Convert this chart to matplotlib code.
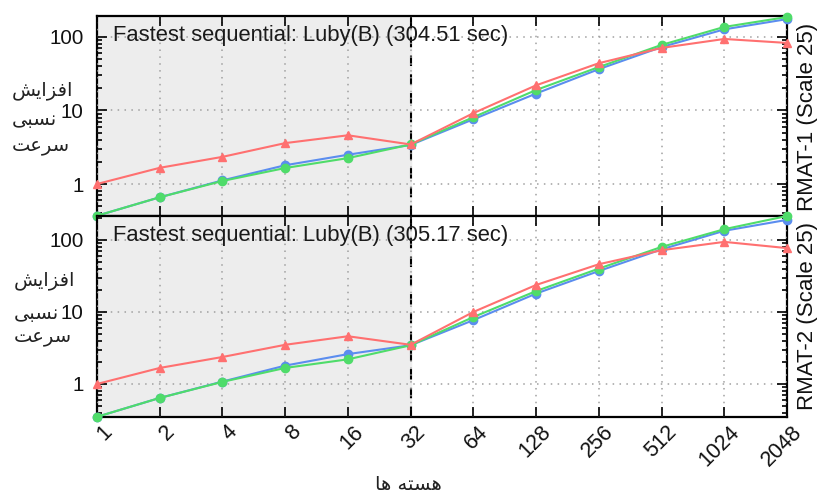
import matplotlib
matplotlib.use("Agg")
import matplotlib.pyplot as plt
import matplotlib.transforms as mtransforms
from matplotlib.ticker import LogLocator, NullFormatter, FixedLocator, FixedFormatter

plt.rcParams['font.family'] = ['Liberation Sans', 'DejaVu Sans']

cores = [1, 2, 4, 8, 16, 32, 64, 128, 256, 512, 1024, 2048]
core_labels = ['1', '2', '4', '8', '16', '32', '64', '128', '256', '512', '1024', '2048']

# RMAT-1
red1 = [1.0, 1.66, 2.34, 3.6, 4.6, 3.45, 9.2, 22, 44, 71, 94, 83]
blue1 = [0.37, 0.66, 1.12, 1.8, 2.5, 3.4, 7.6, 17, 36.5, 73, 127, 175]
green1 = [0.37, 0.66, 1.1, 1.65, 2.25, 3.45, 8.1, 19, 39, 78, 137, 187]
# RMAT-2
red2 = [1.0, 1.67, 2.37, 3.5, 4.6, 3.5, 10, 23.7, 46, 72, 94, 77]
blue2 = [0.35, 0.64, 1.08, 1.8, 2.6, 3.45, 7.7, 18, 37, 74, 134, 190]
green2 = [0.35, 0.64, 1.07, 1.67, 2.2, 3.45, 8.5, 19.5, 40, 80, 141, 215]

titles = ['Fastest sequential: Luby(B) (304.51 sec)',
          'Fastest sequential: Luby(B) (305.17 sec)']
side_labels = ['RMAT-1 (Scale 25)', 'RMAT-2 (Scale 25)']

# Persian labels (presentation forms in visual order)
ylab_lines = ['\uFEB6\uFEF3\uFE8D\uFEB0\uFED3\uFE8D',   # افزایش
              '\uFEF0\uFE92\uFEB4\uFEE7',               # نسبی
              '\uFE96\uFECB\uFEAE\uFEB3']               # سرعت
xlab = '\uFE8E\uFEEB \uFEEA\uFE98\uFEB4\uFEEB'          # هسته ها

RED = '#ff7070'
BLUE = '#5b8def'
GREEN = '#4fdc6a'

W, H = 819, 493
fig = plt.figure(figsize=(W / 100, H / 100), dpi=100)

panels = [
    dict(box=(97, 16, 787, 216), ylim=(0.367, 193), data=(red1, blue1, green1)),
    dict(box=(97, 216, 787, 417), ylim=(0.348, 215), data=(red2, blue2, green2)),
]

axes = []
for i, p in enumerate(panels):
    x0, y0, x1, y1 = p['box']
    ax = fig.add_axes([x0 / W, 1 - y1 / H, (x1 - x0) / W, (y1 - y0) / H])
    axes.append(ax)
    ax.set_xscale('log', base=2)
    ax.set_yscale('log')
    ax.set_xlim(1, 2048)
    ax.set_ylim(*p['ylim'])
    ax.axvspan(1, 32, color='#ededed', zorder=0)
    ax.axvline(32, color='black', lw=1.5, ls=(0, (5, 4)), zorder=2)
    red, blue, green = p['data']
    ax.plot(cores, blue, color=BLUE, lw=1.5, marker='o', ms=6, clip_on=False, zorder=3)
    ax.plot(cores, green, color=GREEN, lw=1.5, marker='o', ms=6, clip_on=False, zorder=4)
    ax.plot(cores, red, color=RED, lw=1.5, marker='^', ms=6, clip_on=False, zorder=5)

    ax.xaxis.set_major_locator(FixedLocator(cores))
    ax.xaxis.set_minor_locator(FixedLocator([]))
    ax.yaxis.set_major_locator(FixedLocator([1, 10, 100]))
    ax.yaxis.set_major_formatter(FixedFormatter(['1', '10', '100']))
    ax.yaxis.set_minor_locator(LogLocator(base=10, subs=range(2, 10)))
    ax.yaxis.set_minor_formatter(NullFormatter())
    ax.grid(True, which='major', color='#a0a0a0', ls=(0, (1, 3.5)), lw=1.1, zorder=1)
    ax.tick_params(which='both', direction='in', top=True, right=True, width=1.2)
    ax.tick_params(which='major', length=7)
    ax.tick_params(which='minor', length=3.5)
    ax.tick_params(axis='y', labelsize=14.8, pad=9.5, labelcolor='#111111')
    for s in ax.spines.values():
        s.set_linewidth(1.6)
    ax.set_axisbelow(False)
    ax.text(0.023, 0.905, titles[i], transform=ax.transAxes, fontsize=15.8,
            ha='left', va='center', color='#1a1a1a', zorder=6)
    if i == 0:
        ax.tick_params(axis='x', labelbottom=False)
    else:
        ax.set_xticklabels(core_labels)
        ax.tick_params(axis='x', labelsize=15.5, pad=0, labelcolor='#111111')
        off = mtransforms.ScaledTranslation(12 / 100, -12 / 100, fig.dpi_scale_trans)
        for lab in ax.get_xticklabels():
            lab.set_rotation(45)
            lab.set_ha('right')
            lab.set_va('center')
            lab.set_rotation_mode('anchor')
            lab.set_transform(lab.get_transform() + off)

# side labels
fig.text(808 / W, 1 - 117 / H, side_labels[0], rotation=90, ha='center', va='center',
         fontsize=16, color='#111111')
fig.text(808 / W, 1 - 316 / H, side_labels[1], rotation=90, ha='center', va='center',
         fontsize=16, color='#111111')

# Persian y labels
for yy, lines, xl in [((90, 119, 145), ylab_lines, 12), ((281, 313, 337), ylab_lines, 14)]:
    for y, t in zip(yy, lines):
        fig.text(xl / W, 1 - y / H, t, ha='left', va='center', fontsize=14,
                 family=['DejaVu Sans'], color='#222222')

fig.text(408 / W, 1 - 484 / H, xlab, ha='center', va='center', fontsize=14,
         family=['DejaVu Sans'], color='#222222')

fig.savefig('out.png', dpi=100)
